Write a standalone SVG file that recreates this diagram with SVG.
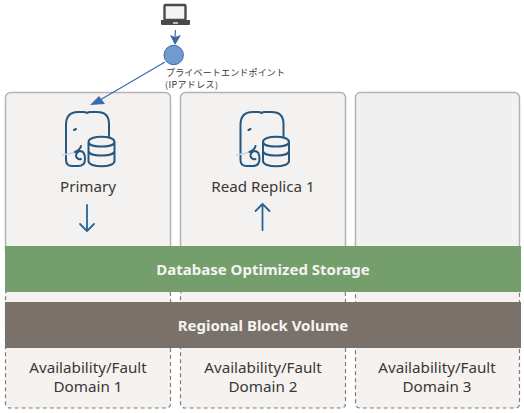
<svg xmlns="http://www.w3.org/2000/svg" width="524" height="413" viewBox="0 0 524 413">
<style>
.card{fill:#f4f2f0;stroke:#b5b3b1;stroke-width:1.5}
.dom{fill:#f5f2f0;stroke:#7f7c79;stroke-width:1.2;stroke-dasharray:4 3}
.lbl{font-family:"Noto Sans","Open Sans",sans-serif;fill:#3a3836;text-anchor:middle;font-size:15.2px}
.band{font-family:"Noto Sans","Open Sans",sans-serif;fill:#f4f4f0;text-anchor:middle;font-size:15px;font-weight:700}
.ic{fill:none;stroke:#25577f;stroke-width:2;stroke-linecap:round;stroke-linejoin:round}
.tusk{fill:none;stroke:#c9d3dc;stroke-width:1.5;stroke-linecap:round}
.ln{fill:none;stroke:#3a6bab;stroke-width:1.2}
.ar{fill:none;stroke:#2a6496;stroke-width:1.8;stroke-linecap:round;stroke-linejoin:round}
.jp{font-family:"Noto Sans CJK JP","Noto Sans",sans-serif;font-size:9px;fill:#3a3432}
</style>
<defs>
<g id="elephant">
<path class="ic" d="M109 137V124Q109 112 97 112H91Q88 112 87 113Q86 112 83 112H78Q66 112 66 125V160Q66 166 72 166H78Q85 166 85 159Q85 151 80 151Q76 152 76 156Q77 160 81 159"/>
<path class="tusk" d="M62 155Q70 154 75 152"/>
<path class="ic" d="M75 152Q80 150 81 146M74 130L76 129"/>
<path class="ic" d="M88.500 142C88.500 135 114.500 135 114.500 142V161C114.500 168 88.500 168 88.500 161ZM88.500 142C88.500 148 114.500 148 114.500 142M88.500 151C88.500 157 114.500 157 114.500 151"/>
</g>
</defs>
<g id="domain-1"><rect class="dom" x="5.500" y="290" width="165" height="118" rx="4"/><text class="lbl" x="88" y="373">Availability/Fault</text><text class="lbl" x="88" y="392">Domain 1</text></g>
<g id="domain-2"><rect class="dom" x="180.500" y="290" width="165" height="118" rx="4"/><text class="lbl" x="263" y="373">Availability/Fault</text><text class="lbl" x="263" y="392">Domain 2</text></g>
<g id="domain-3"><rect class="dom" x="355.500" y="290" width="164" height="118" rx="4"/><text class="lbl" x="437" y="373">Availability/Fault</text><text class="lbl" x="437" y="392">Domain 3</text></g>
<g id="primary"><rect class="card" x="5.500" y="92.500" width="165" height="165" rx="5"/><use href="#elephant"/><text class="lbl" x="88" y="192">Primary</text></g>
<g id="read-replica"><rect class="card" x="180.500" y="92.500" width="165" height="165" rx="5"/><use href="#elephant" x="174.500"/><text class="lbl" x="263" y="192">Read Replica 1</text></g>
<g id="empty"><rect class="card" x="355.500" y="92.500" width="164" height="165" rx="5"/><rect x="360" y="95" width="152" height="147" fill="#eeeeef"/></g>
<g id="storage"><rect x="5" y="246" width="516" height="46" fill="#759e6d"/><text class="band" x="263" y="275">Database Optimized Storage</text></g>
<g id="block-volume"><rect x="5" y="302" width="516" height="46" fill="#7a716b"/><text class="band" x="263" y="331">Regional Block Volume</text></g>
<g id="laptop"><rect x="164.500" y="5" width="21" height="15" rx="1" fill="#f4f4f4" stroke="#4a4a4c" stroke-width="2.400"/><path d="M161 20H190V24Q190 25 189 25H162Q161 25 161 24Z" fill="#4a4a4c"/><rect x="173" y="22" width="5" height="2" fill="#bdbdbd"/></g>
<g id="endpoint"><circle cx="173.700" cy="55" r="9.700" fill="#6f9bcf" stroke="#3a6bab" stroke-width="1"/><text class="jp" x="166" y="76" textLength="119">プライベートエンドポイント</text><text class="jp" x="165" y="88" textLength="53">(IPアドレス)</text></g>
<g id="connectors">
<path class="ln" d="M175.500 30L175 37"/><path d="M170 35L175 37L181 35L175 45Z" fill="#3a6bab"/>
<path class="ln" d="M165 62L100 100"/><path d="M90 105L99 96L105 104Z" fill="#3a6bab"/>
<path class="ar" d="M87 205V231M80 224L87 231L94 224"/>
<path class="ar" d="M262.500 230V204M255.500 211L262.500 204L269.500 211"/>
</g>
</svg>
